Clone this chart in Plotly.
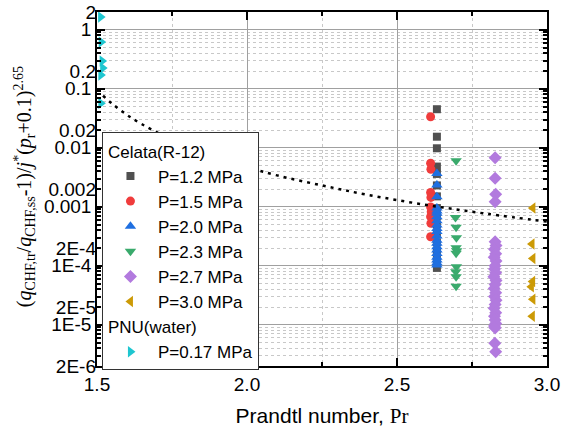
import math
import plotly.graph_objects as go

# ---------------- data ----------------
# Celata (R-12)
x_p12 = [2.633] * 15
y_p12 = [0.045, 0.0154, 0.0098, 0.0048, 0.0036, 0.0023, 0.0015, 9.5e-4, 7.0e-4,
         5.0e-4, 3.5e-4, 2.5e-4, 1.8e-4, 1.3e-4, 9.2e-5]

x_p15 = [2.612, 2.612, 2.613, 2.612, 2.613, 2.612, 2.614, 2.612, 2.613, 2.612]
y_p15 = [0.0336, 0.00546, 0.00432, 0.00175, 0.00144, 9.9e-4, 8.2e-4, 6.8e-4, 5.25e-4, 3.1e-4]

x_p20 = [2.633] * 21
y_p20 = [0.00366, 0.00234, 0.00148, 9.5e-4, 8.5e-4, 7.8e-4, 6.8e-4, 5.8e-4, 4.9e-4,
         4.3e-4, 3.8e-4, 3.2e-4, 2.7e-4, 2.4e-4, 2.1e-4, 1.85e-4, 1.62e-4, 1.4e-4,
         1.25e-4, 1.12e-4, 1.03e-4]

x_p23 = [2.697, 2.695, 2.697, 2.698, 2.697, 2.699, 2.697, 2.698, 2.696, 2.697, 2.697]
y_p23 = [0.00604, 6.6e-4, 4.5e-4, 2.98e-4, 2.02e-4, 1.8e-4, 1.63e-4, 9.6e-5, 7.9e-5,
         6.5e-5, 4.5e-5]

x_p27 = [2.827, 2.827, 2.829, 2.827,
         2.827, 2.830, 2.825, 2.829, 2.824, 2.830, 2.827, 2.825, 2.829, 2.823,
         2.830, 2.827, 2.824, 2.829, 2.825, 2.830, 2.827, 2.824, 2.829, 2.825,
         2.827, 2.829, 2.825, 2.827,
         2.826, 2.829]
y_p27 = [0.00679, 0.00303, 0.00163, 0.00122,
         2.56e-4, 2.2e-4, 1.9e-4, 1.6e-4, 1.4e-4, 1.2e-4, 1.0e-4, 8.8e-5, 7.6e-5, 6.5e-5,
         5.6e-5, 4.8e-5, 4.1e-5, 3.5e-5, 3.0e-5, 2.6e-5, 2.2e-5, 1.9e-5, 1.6e-5, 1.4e-5,
         1.2e-5, 1.05e-5, 9.5e-6, 8.8e-6,
         4.85e-6, 3.5e-6]

x_p30 = [2.953, 2.950, 2.953, 2.952, 2.948, 2.953, 2.951]
y_p30 = [9.5e-4, 2.34e-4, 1.33e-4, 5.4e-5, 4.4e-5, 2.7e-5, 1.39e-5]

# PNU (water)
x_p017 = [1.512, 1.514, 1.517, 1.519, 1.513, 1.513]
y_p017 = [1.64, 0.62, 0.295, 0.225, 0.171, 0.057]

# dotted correlation curve
curve_x = [1.52, 1.55, 1.6, 1.65, 1.72, 1.8, 1.9, 2.0, 2.1, 2.25, 2.4, 2.6, 2.8, 3.0]
curve_y = [0.076, 0.056, 0.036, 0.025, 0.0162, 0.0106, 0.0069, 0.0047, 0.0034,
           0.0023, 0.0016, 0.00107, 0.00076, 0.00056]

series = [
    ("P=1.2 MPa", x_p12, y_p12, "square", "#505050", 8, "celata", "Celata(R-12)"),
    ("P=1.5 MPa", x_p15, y_p15, "circle", "#f03c3c", 9, "celata", "Celata(R-12)"),
    ("P=2.0 MPa", x_p20, y_p20, "triangle-up", "#1f6fe0", 10, "celata", "Celata(R-12)"),
    ("P=2.3 MPa", x_p23, y_p23, "triangle-down", "#3aaa6c", 10, "celata", "Celata(R-12)"),
    ("P=2.7 MPa", x_p27, y_p27, "diamond", "#b27ade", 10, "celata", "Celata(R-12)"),
    ("P=3.0 MPa", x_p30, y_p30, "triangle-left", "#cc9a06", 10, "celata", "Celata(R-12)"),
    ("P=0.17 MPa", x_p017, y_p017, "triangle-right", "#1ec6d0", 10, "pnu", "PNU(water)"),
]

y_major = [1, 0.1, 0.01, 0.001, 1e-4, 1e-5]
y_major_text = ["1", "0.1", "0.01", "0.001", "1E-4", "1E-5"]
y_two = [2, 0.2, 0.02, 0.002, 2e-4, 2e-5, 2e-6]
y_two_text = ["2", "0.2", "0.02", "0.002", "2E-4", "2E-5", "2E-6"]
x_ticks = [1.5, 2.0, 2.5, 3.0]
x_tick_text = ["1.5", "2.0", "2.5", "3.0"]

y_title = ("(<i>q</i><sub>CHF,tr</sub>/<i>q</i><sub>CHF,ss</sub>-1)/<i>j</i><sup>*</sup>"
           "(<i>p</i><sub>r</sub>+0.1)<sup>2.65</sup>")

# ---------------- figure ----------------
fig = go.Figure()
for name, xs, ys, sym, col, sz, grp, gtitle in series:
    fig.add_trace(go.Scatter(
        x=xs, y=ys, mode="markers", name=name,
        marker=dict(symbol=sym, color=col, size=sz, line=dict(width=0)),
        legendgroup=grp, legendgrouptitle=dict(text=gtitle),
        cliponaxis=False,
    ))

fig.add_trace(go.Scatter(
    x=curve_x, y=curve_y, mode="lines", yaxis="y2", showlegend=False,
    line=dict(color="black", width=2.5, dash="3px,5px", shape="spline"),
))

minor_vals = [k * 10.0 ** n for n in range(-6, 1) for k in range(2, 10)
              if 2e-6 <= k * 10.0 ** n <= 2]
yr = [math.log10(2e-6), math.log10(2)]

fig.update_layout(
    width=561, height=428,
    margin=dict(l=97, r=14, t=12, b=62, autoexpand=False),
    paper_bgcolor="white", plot_bgcolor="white",
    font=dict(family="Liberation Sans, Arial", size=19, color="black"),
    showlegend=True,
    legend=dict(
        x=0.011, y=0.66, xanchor="left", yanchor="top",
        bgcolor="white", bordercolor="#333333", borderwidth=1,
        font=dict(size=17), grouptitlefont=dict(size=17),
        tracegroupgap=0, itemwidth=45,
    ),
    xaxis=dict(
        range=[1.5, 3.0], tickmode="array", tickvals=x_ticks, ticktext=x_tick_text,
        automargin=False,
        ticks="inside", ticklen=8, tickwidth=1.5, tickcolor="black",
        showline=True, linecolor="black", linewidth=1.5, mirror="ticks",
        showgrid=True, gridcolor="#a0a0a0", gridwidth=1, zeroline=False,
        minor=dict(tick0=1.5, dtick=0.25, ticks="inside", ticklen=4, tickcolor="black",
                   showgrid=True, gridcolor="#c8c8c8", griddash="dot", gridwidth=1),
        title=dict(text="Prandtl number, <span style='font-family:Liberation Serif'>Pr</span>",
                   font=dict(size=21), standoff=19),
    ),
    yaxis=dict(
        type="log", range=yr, tickmode="array", tickvals=y_major, ticktext=y_major_text,
        automargin=False,
        ticks="inside", ticklen=8, tickwidth=1.5, tickcolor="black",
        showline=True, linecolor="black", linewidth=1.5, mirror="ticks",
        showgrid=True, gridcolor="#a0a0a0", gridwidth=1, zeroline=False,
        minor=dict(tickmode="array", tickvals=minor_vals, ticks="inside", ticklen=4,
                   tickcolor="black", showgrid=True, gridcolor="#c8c8c8",
                   griddash="dot", gridwidth=1),
    ),
    yaxis2=dict(
        type="log", range=yr, overlaying="y", side="left", anchor="x",
        automargin=False,
        tickmode="array", tickvals=y_two, ticktext=y_two_text,
        ticks="", showgrid=False, showline=False, zeroline=False,
    ),
    annotations=[dict(
        text=y_title, textangle=-90, showarrow=False,
        xref="paper", yref="paper", x=0, y=0.505, xanchor="center", yanchor="middle",
        xshift=-72, font=dict(family="Liberation Serif, Times New Roman", size=20),
    )],
)

fig.write_html("out.html")
